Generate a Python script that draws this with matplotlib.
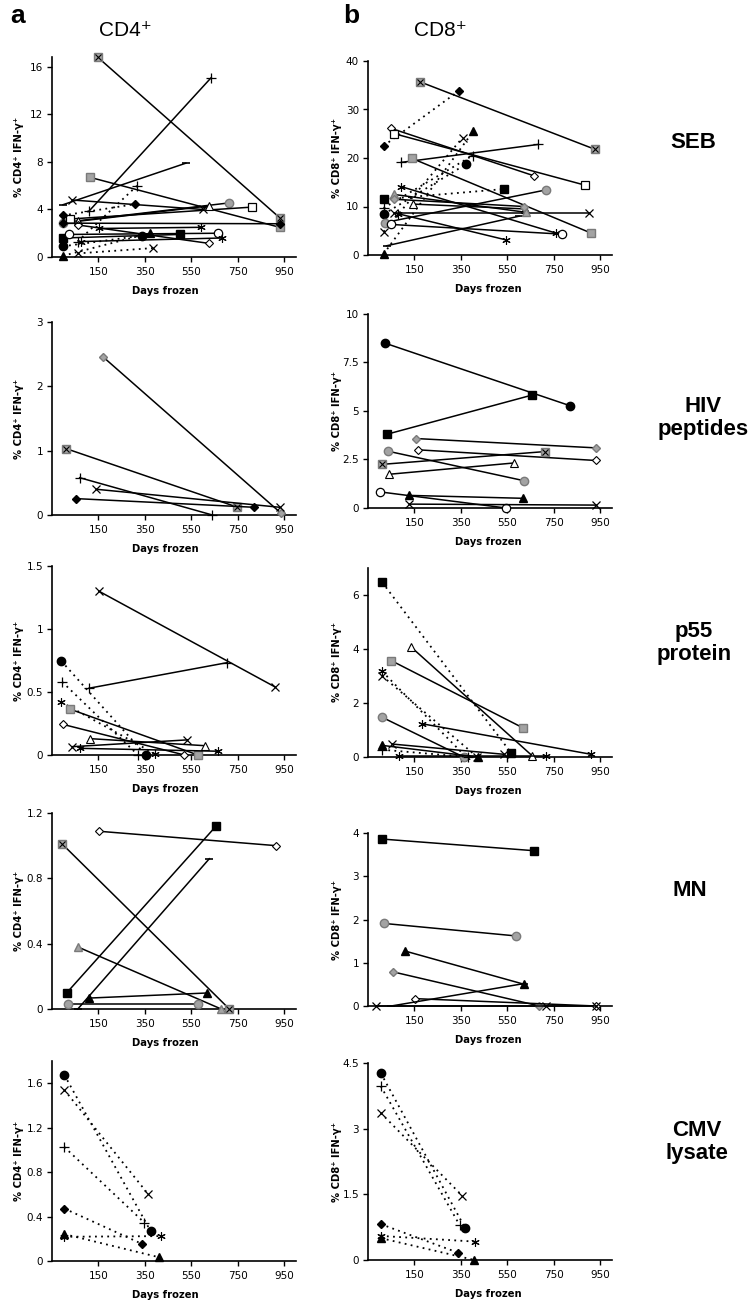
import matplotlib
matplotlib.use('Agg')
import matplotlib.pyplot as plt

# ---------------- data ----------------
DAY_TICKS = [150, 350, 550, 750, 950]

SEB_CD4_X = [[148, 930], [111, 635], [-3, 526], [115, 930], [36, 600], [-3, 710], [29, 810],
             [60, 625], [-3, 308], [60, 316], [60, 383], [-3, 370], [-3, 500], [-3, 337],
             [22, 664], [60, 624], [75, 680], [-3, 930], [151, 592]]
SEB_CD4_Y = [[16.8, 3.3], [3.9, 15.1], [4.4, 7.9], [6.7, 2.5], [4.8, 4.0], [2.9, 4.55], [3.2, 4.2],
             [3.0, 4.3], [3.5, 4.45], [1.3, 6.0], [0.3, 0.75], [0.1, 2.0], [1.6, 1.9], [0.9, 1.8],
             [1.9, 2.0], [2.7, 1.15], [1.3, 1.6], [2.85, 2.8], [2.4, 2.5]]
SEB_CD4_MK = ['xs', 'plus', 'dash', 'gsq', 'x', 'gci', 'osq', 'otri', 'dia', 'plus', 'x', 'tri',
              'sq', 'ci', 'oci', 'odia', 'ast', 'dia', 'ast']
SEB_CD4_DOT = [0, 0, 0, 0, 0, 0, 0, 0, 1, 1, 1, 1, 0, 1, 0, 0, 0, 0, 0]

SEB_CD8_X = [[174, 926], [17, 340], [50, 666], [64, 884], [93, 683], [140, 911], [17, 403],
             [17, 357], [17, 371], [17, 536], [24, 714], [60, 902], [93, 760], [50, 786],
             [143, 626], [80, 545], [30, 600], [17, 400], [60, 630], [60, 620]]
SEB_CD8_Y = [[35.7, 21.8], [22.5, 33.8], [26.1, 16.3], [25.0, 14.4], [19.1, 22.8], [19.9, 4.5],
             [0.2, 25.5], [4.8, 24.2], [8.4, 18.7], [11.5, 13.6], [6.7, 13.4], [8.7, 8.7],
             [14.1, 4.5], [6.3, 4.3], [10.5, 9.5], [8.5, 3.1], [1.9, 8.0], [9.7, 20.5],
             [12.5, 8.8], [11.5, 10.0]]
SEB_CD8_MK = ['xs', 'dia', 'odia', 'osq', 'plus', 'gsq', 'tri', 'x', 'ci', 'sq', 'gci', 'x',
              'ast', 'oci', 'otri', 'ast', 'dash', 'plus', 'gtri', 'gdia']
SEB_CD8_DOT = [0, 1, 0, 0, 0, 0, 1, 1, 1, 1, 0, 0, 0, 0, 0, 0, 0, 1, 0, 0]

HIV_CD4_X = [[169, 935], [12, 745], [69, 640], [141, 930], [52, 820]]
HIV_CD4_Y = [[2.46, 0.03], [1.03, 0.125], [0.58, 0.0], [0.40, 0.12], [0.255, 0.12]]
HIV_CD4_MK = ['gdia', 'xs', 'plus', 'x', 'dia']
HIV_CD4_DOT = [0, 0, 0, 0, 0]

HIV_CD8_X = [[25, 820], [31, 656], [157, 930], [164, 930], [35, 620], [11, 713], [42, 577],
             [2, 544], [126, 616], [128, 930]]
HIV_CD8_Y = [[8.49, 5.27], [3.8, 5.82], [3.58, 3.1], [3.0, 2.45], [2.93, 1.41], [2.25, 2.91],
             [1.74, 2.32], [0.83, 0.0], [0.65, 0.5], [0.2, 0.15]]
HIV_CD8_MK = ['ci', 'sq', 'gdia', 'odia', 'gci', 'xs', 'otri', 'oci', 'tri', 'x']
HIV_CD8_DOT = [0] * 10

P55_CD4_X = [[152, 910], [109, 704], [-10, 353], [-6, 320], [-10, 392], [26, 578], [-3, 520],
             [112, 607], [37, 532], [69, 664]]
P55_CD4_Y = [[1.30, 0.54], [0.53, 0.733], [0.746, 0.0], [0.58, 0.0], [0.42, 0.01], [0.365, 0.0],
             [0.243, 0.0], [0.13, 0.074], [0.066, 0.12], [0.053, 0.03]]
P55_CD4_MK = ['x', 'plus', 'ci', 'plus', 'ast', 'gsq', 'odia', 'otri', 'x', 'ast']
P55_CD4_DOT = [0, 0, 1, 1, 1, 0, 0, 0, 0, 0]

P55_CD8_X = [[11, 566], [136, 656], [50, 619], [11, 372], [11, 420], [183, 910], [11, 361],
             [11, 422], [54, 535], [11, 380], [85, 716]]
P55_CD8_Y = [[6.47, 0.15], [4.07, 0.05], [3.57, 1.07], [3.17, 0.0], [3.0, 0.0], [1.23, 0.1],
             [1.47, 0.0], [0.43, 0.0], [0.48, 0.1], [0.27, 0.0], [0.02, 0.02]]
P55_CD8_MK = ['sq', 'otri', 'gsq', 'ast', 'x', 'ast', 'gci', 'tri', 'x', 'plus', 'ast']
P55_CD8_DOT = [1, 0, 0, 1, 1, 0, 0, 0, 0, 1, 0]

MN_CD4_X = [[154, 915], [-6, 713], [14, 656], [61, 627], [61, 678], [111, 617], [21, 579]]
MN_CD4_Y = [[1.088, 1.0], [1.01, 0.0], [0.10, 1.12], [0.0, 0.92], [0.38, 0.0], [0.067, 0.098],
            [0.03, 0.03]]
MN_CD4_MK = ['odia', 'xs', 'sq', 'dash', 'gtri', 'tri', 'gci']
MN_CD4_DOT = [0] * 7

MN_CD8_X = [[11, 666], [17, 587], [110, 623], [57, 688], [153, 930], [-15, 716, 930], [50, 623]]
MN_CD8_Y = [[3.86, 3.59], [1.91, 1.62], [1.27, 0.5], [0.79, 0.0], [0.17, 0.0], [0.0, 0.0, 0.0],
            [0.0, 0.52]]
MN_CD8_MK = ['sq', 'gci', 'tri', 'gdia', 'odia', 'x', 'dash']
MN_CD8_DOT = [0] * 7

CMV_CD4_X = [[3, 374], [3, 362], [3, 348], [3, 338], [3, 412], [3, 420]]
CMV_CD4_Y = [[1.675, 0.27], [1.54, 0.607], [1.026, 0.344], [0.472, 0.153], [0.242, 0.033],
             [0.218, 0.224]]
CMV_CD4_MK = ['ci', 'x', 'plus', 'dia', 'tri', 'ast']
CMV_CD4_DOT = [1] * 6

CMV_CD8_X = [[5, 369], [5, 344], [5, 355], [5, 336], [5, 412], [5, 408]]
CMV_CD8_Y = [[4.27, 0.72], [3.97, 0.80], [3.36, 1.47], [0.82, 0.17], [0.55, 0.42], [0.50, 0.0]]
CMV_CD8_MK = ['ci', 'plus', 'x', 'dia', 'ast', 'tri']
CMV_CD8_DOT = [1] * 6

ROW_LABELS = ['SEB', 'HIV\npeptides', 'p55\nprotein', 'MN', 'CMV\nlysate']
YLAB_CD4 = '% CD4\u207a IFN-\u03b3\u207a'
YLAB_CD8 = '% CD8\u207a IFN-\u03b3\u207a'

# ---------------- style ----------------
W, H = 750, 1307
fig = plt.figure(figsize=(W / 100, H / 100), dpi=100)

GRAY = '#a3a3a3'
GEDGE = '#7a7a7a'
MK = {
    'sq':   dict(marker='s', mfc='black', mec='black', ms=5.5),
    'gsq':  dict(marker='s', mfc=GRAY, mec=GEDGE, ms=5.5),
    'osq':  dict(marker='s', mfc='white', mec='black', ms=5.5, mew=0.9),
    'ci':   dict(marker='o', mfc='black', mec='black', ms=6),
    'gci':  dict(marker='o', mfc=GRAY, mec=GEDGE, ms=6),
    'oci':  dict(marker='o', mfc='white', mec='black', ms=6, mew=0.9),
    'tri':  dict(marker='^', mfc='black', mec='black', ms=6),
    'gtri': dict(marker='^', mfc=GRAY, mec=GEDGE, ms=6),
    'otri': dict(marker='^', mfc='white', mec='black', ms=6, mew=0.8),
    'dia':  dict(marker='D', mfc='black', mec='black', ms=4),
    'gdia': dict(marker='D', mfc=GRAY, mec=GEDGE, ms=4),
    'odia': dict(marker='D', mfc='white', mec='black', ms=4, mew=0.8),
    'x':    dict(marker='x', mfc='black', mec='black', ms=6, mew=0.9),
    'plus': dict(marker='+', mfc='black', mec='black', ms=7, mew=0.9),
    'ast':  dict(marker=(6, 2, 0), mfc='black', mec='black', ms=6, mew=0.8),
    'xs':   dict(marker='s', mfc=GRAY, mec=GEDGE, ms=6),
    'dash': dict(marker='_', mfc='black', mec='black', ms=6, mew=1.2),
}

LX0, RX0, AW = 52, 368, 244
PANELS = [
    (SEB_CD4_X, SEB_CD4_Y, SEB_CD4_MK, SEB_CD4_DOT, LX0, 57, 257, 16.84, [0, 4, 8, 12, 16], ['0', '4', '8', '12', '16'], YLAB_CD4),
    (SEB_CD8_X, SEB_CD8_Y, SEB_CD8_MK, SEB_CD8_DOT, RX0, 61, 255, 40, [0, 10, 20, 30, 40], ['0', '10', '20', '30', '40'], YLAB_CD8),
    (HIV_CD4_X, HIV_CD4_Y, HIV_CD4_MK, HIV_CD4_DOT, LX0, 322, 515, 3, [0, 1, 2, 3], ['0', '1', '2', '3'], YLAB_CD4),
    (HIV_CD8_X, HIV_CD8_Y, HIV_CD8_MK, HIV_CD8_DOT, RX0, 314, 508, 10, [0, 2.5, 5, 7.5, 10], ['0', '2.5', '5', '7.5', '10'], YLAB_CD8),
    (P55_CD4_X, P55_CD4_Y, P55_CD4_MK, P55_CD4_DOT, LX0, 566, 755, 1.5, [0, 0.5, 1, 1.5], ['0', '0.5', '1', '1.5'], YLAB_CD4),
    (P55_CD8_X, P55_CD8_Y, P55_CD8_MK, P55_CD8_DOT, RX0, 568, 757, 7, [0, 2, 4, 6], ['0', '2', '4', '6'], YLAB_CD8),
    (MN_CD4_X, MN_CD4_Y, MN_CD4_MK, MN_CD4_DOT, LX0, 813, 1009, 1.2, [0, 0.4, 0.8, 1.2], ['0', '0.4', '0.8', '1.2'], YLAB_CD4),
    (MN_CD8_X, MN_CD8_Y, MN_CD8_MK, MN_CD8_DOT, RX0, 833, 1006, 4, [0, 1, 2, 3, 4], ['0', '1', '2', '3', '4'], YLAB_CD8),
    (CMV_CD4_X, CMV_CD4_Y, CMV_CD4_MK, CMV_CD4_DOT, LX0, 1061, 1261, 1.8, [0, 0.4, 0.8, 1.2, 1.6], ['0', '0.4', '0.8', '1.2', '1.6'], YLAB_CD4),
    (CMV_CD8_X, CMV_CD8_Y, CMV_CD8_MK, CMV_CD8_DOT, RX0, 1063, 1260, 4.5, [0, 1.5, 3, 4.5], ['0', '1.5', '3', '4.5'], YLAB_CD8),
]

TICK_FONT = dict(family='DejaVu Sans', size=7.5)
for (xs, ys, mks, dots, x0, top, bot, ymax, yt, ytl, ylab) in PANELS:
    ax = fig.add_axes([x0 / W, 1 - bot / H, AW / W, (bot - top) / H])
    ax.set_xlim(-50, 1000)
    ax.set_ylim(0, ymax)
    for sp in ['top', 'right']:
        ax.spines[sp].set_visible(False)
    for sp in ['left', 'bottom']:
        ax.spines[sp].set_linewidth(1.2)
        ax.spines[sp].set_zorder(1)
    ax.set_xticks(DAY_TICKS)
    ax.set_xticklabels([str(d) for d in DAY_TICKS], fontdict=TICK_FONT)
    ax.set_yticks(yt)
    ax.set_yticklabels(ytl, fontdict=TICK_FONT)
    ax.tick_params(direction='out', length=3.5, width=1.0, pad=3, colors='black')
    ax.tick_params(axis='x', pad=4)
    for x, y, m, d in zip(xs, ys, mks, dots):
        kw = MK[m]
        if d:
            ax.plot(x, y, color='black', lw=1.3, ls=(0, (1, 2.4)), zorder=3, clip_on=False, **kw)
        else:
            ax.plot(x, y, color='black', lw=1.1, ls='-', zorder=3, clip_on=False, **kw)
        if m == 'xs':
            ax.plot(x, y, ls='none', marker='x', color='black', ms=4.5, mew=0.8, zorder=4, clip_on=False)
    cx = 165 if x0 == LX0 else 488
    fig.text(cx / W, 1 - (bot + 34) / H, 'Days frozen', ha='center', va='center',
             fontsize=7.2, fontweight='bold', family='DejaVu Sans')
    lx = 19 if x0 == LX0 else 337
    fig.text(lx / W, 1 - ((top + bot) / 2) / H, ylab, rotation=90, ha='center', va='center',
             fontsize=7.2, fontweight='bold', family='DejaVu Sans')

# headers
HEAD_FONT = ['Liberation Sans', 'DejaVu Sans']
fig.text(10 / W, 1 - 16 / H, 'a', fontsize=19, fontweight='bold', family=HEAD_FONT, ha='left', va='center')
fig.text(343 / W, 1 - 16 / H, 'b', fontsize=19, fontweight='bold', family=HEAD_FONT, ha='left', va='center')
fig.text(125 / W, 1 - 30 / H, 'CD4\u207a', fontsize=15, family=HEAD_FONT, ha='center', va='center')
fig.text(440 / W, 1 - 30 / H, 'CD8\u207a', fontsize=15, family=HEAD_FONT, ha='center', va='center')

ROW_POS = [(693, 143), (703, 418), (694, 643), (690, 890), (697, 1142)]
for lab, (px, py) in zip(ROW_LABELS, ROW_POS):
    fig.text(px / W, 1 - py / H, lab, fontsize=16, fontweight='bold', family=HEAD_FONT,
             ha='center', va='center', linespacing=1.15)

fig.savefig('out.png', dpi=100)
